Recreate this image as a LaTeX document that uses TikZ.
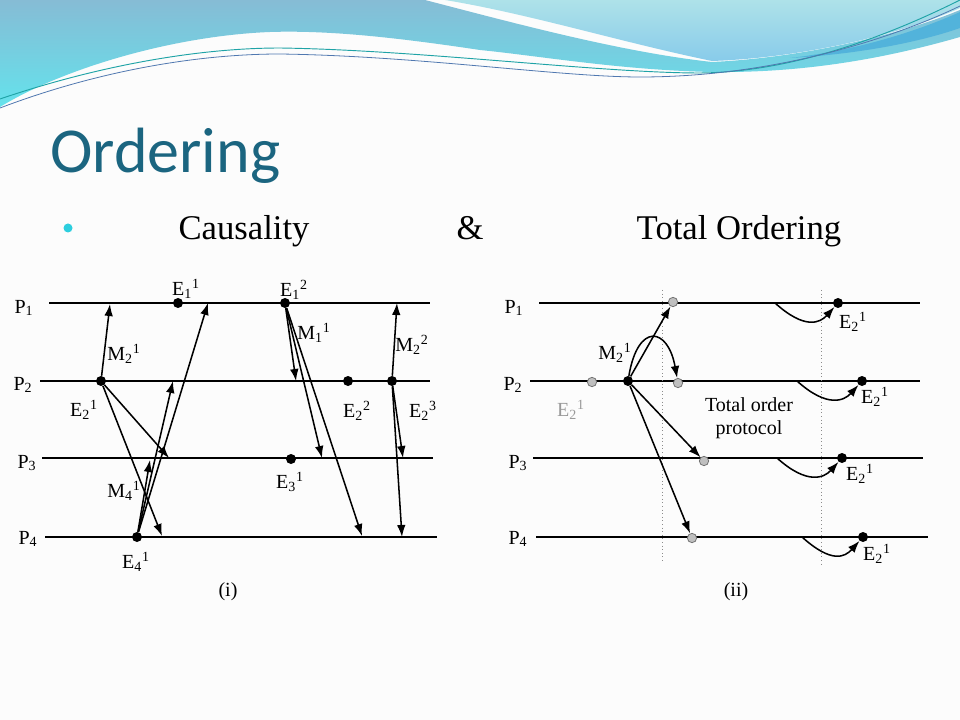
\documentclass[tikz,border=0pt]{standalone}
\usepackage{fontspec}
\setmainfont{Liberation Serif}
\newfontfamily\titlefont{Carlito}
\usetikzlibrary{arrows.meta}

\definecolor{titleblue}{HTML}{1B6580}
\definecolor{bullcyan}{HTML}{2CCEDE}
\definecolor{bandtop}{HTML}{86BCD5}
\definecolor{bandbot}{HTML}{64E2EC}
\definecolor{lighttop}{HTML}{AEE2E9}
\definecolor{lightbot}{HTML}{88CBEA}
\definecolor{stripe}{HTML}{52B3DB}
\definecolor{waveteal}{HTML}{1FA3A6}
\definecolor{waveblue}{HTML}{5078B0}

\tikzset{
  proc/.style={line width=0.8pt},
  msg/.style={line width=1.15pt,-{Latex[length=9pt,width=6.5pt]}},
  ev/.style={circle,fill=black,inner sep=0pt,minimum size=7.5pt},
  gev/.style={circle,fill=black!25,draw=black!55,line width=0.6pt,inner sep=0pt,minimum size=7pt},
  lbl/.style={font=\fontsize{15}{17}\selectfont,inner sep=0pt},
}
\newcommand{\evt}[3]{#1\textsubscript{#2}\textsuperscript{#3}}

\begin{document}
\begin{tikzpicture}[x=0.75pt,y=-0.75pt]
  \useasboundingbox (0,0) rectangle (960,720);
  \fill[black!1] (0,0) rectangle (960,720);

  % header waves
  \shade[top color=bandtop,bottom color=bandbot] (0,0) -- (425,0)
    .. controls (510,22) and (620,52) .. (712,62)
    .. controls (800,58) and (900,35) .. (960,10) -- (960,37)
    .. controls (880,60) and (800,73) .. (712,72)
    .. controls (620,70) and (540,56) .. (480,50)
    .. controls (400,38) and (330,30) .. (270,32)
    .. controls (170,36) and (60,70) .. (0,107) -- cycle;
  \shade[top color=lighttop,bottom color=lightbot] (445,0) -- (960,0) -- (960,8)
    .. controls (900,35) and (800,58) .. (712,61)
    .. controls (620,42) and (530,14) .. (445,0) -- cycle;
  \fill[stripe] (790,58) .. controls (860,50) and (920,30) .. (960,12) -- (960,28)
    .. controls (920,42) and (860,54) .. (790,58) -- cycle;
  \draw[waveteal,line width=0.7pt] (0,99) .. controls (100,65) and (200,48) .. (280,48)
    .. controls (420,50) and (600,73) .. (700,73) .. controls (800,72) and (900,30) .. (960,0);
  \draw[waveblue,line width=0.6pt] (0,108) .. controls (100,70) and (200,54) .. (280,54)
    .. controls (420,56) and (560,77) .. (640,77) .. controls (780,77) and (900,35) .. (960,6);

  % title and bullet
  \node[anchor=base west,inner sep=0pt,text=titleblue,font=\titlefont\fontsize{48}{50}\selectfont] (title) at (50,173) {Ordering};
  \fill[bullcyan] (68,228) circle (4.5);
  \node[anchor=base,inner sep=0pt,font=\fontsize{26}{28}\selectfont] (caus) at (244,240) {Causality};
  \node[anchor=base,inner sep=0pt,font=\fontsize{26}{28}\selectfont] (amp) at (470,240) {\&};
  \node[anchor=base,inner sep=0pt,font=\fontsize{26}{28}\selectfont] (tot) at (739,240) {Total Ordering};

  % (i) causality
  \foreach \i/\xs/\xe/\y in {1/49/430/303, 2/40/430/381, 3/42/433/458, 4/45/437/537} {
    \coordinate (a\i s) at (\xs,\y);
    \coordinate (a\i e) at (\xe,\y);
    \draw[proc] (a\i s) -- (a\i e);
  }
  \node[lbl] (pa1) at (24,308) {P\textsubscript{1}};
  \node[lbl] (pa2) at (23,385) {P\textsubscript{2}};
  \node[lbl] (pa3) at (27,463) {P\textsubscript{3}};
  \node[lbl] (pa4) at (28,539) {P\textsubscript{4}};

  \node[ev] (e11) at (178,303) {};
  \node[ev] (e21) at (101,381) {};
  \node[ev] (e41) at (137,537) {};
  \node[ev] (e12) at (285,303) {};
  \node[ev] (e22) at (348,381) {};
  \node[ev] (e31) at (291,459) {};
  \node[ev] (e23) at (392,381) {};

  \foreach \src/\x/\y [count=\k] in {e21/110/304, e21/169/458, e21/162/536,
      e41/208/303, e41/173/381, e41/150/460,
      e12/296/381, e12/322/458, e12/362/536,
      e23/397/303, e23/403/458, e23/402/537} {
    \coordinate (ta\k) at (\x,\y);
    \draw[msg] (\src) -- (ta\k);
  }

  \node[lbl] (le11) at (186,289) {\evt{E}{1}{1}};
  \node[lbl] (le21) at (84,410) {\evt{E}{2}{1}};
  \node[lbl] (le41) at (136,562) {\evt{E}{4}{1}};
  \node[lbl] (lm21) at (124,354) {\evt{M}{2}{1}};
  \node[lbl] (lm41) at (124,491) {\evt{M}{4}{1}};
  \node[lbl] (le12) at (294,290) {\evt{E}{1}{2}};
  \node[lbl] (lm11) at (314,333) {\evt{M}{1}{1}};
  \node[lbl] (le22) at (357,411) {\evt{E}{2}{2}};
  \node[lbl] (le31) at (290,482) {\evt{E}{3}{1}};
  \node[lbl] (le23) at (423,411) {\evt{E}{2}{3}};
  \node[lbl] (lm22) at (412,345) {\evt{M}{2}{2}};
  \node[lbl] (capi) at (228,592) {(i)};

  % (ii) total ordering
  \foreach \i/\xs/\xe/\y in {1/539/920/303, 2/530/920/381, 3/533/923/458, 4/536/928/537} {
    \coordinate (b\i s) at (\xs,\y);
    \coordinate (b\i e) at (\xe,\y);
    \draw[proc] (b\i s) -- (b\i e);
  }
  \node[lbl] (pb1) at (514,308) {P\textsubscript{1}};
  \node[lbl] (pb2) at (513,385) {P\textsubscript{2}};
  \node[lbl] (pb3) at (518,463) {P\textsubscript{3}};
  \node[lbl] (pb4) at (518,539) {P\textsubscript{4}};

  \coordinate (d1s) at (662,290);
  \coordinate (d1e) at (662,563);
  \coordinate (d2s) at (821,290);
  \coordinate (d2e) at (821,565);
  \draw[black!45,dotted,line width=0.7pt] (d1s) -- (d1e);
  \draw[black!45,dotted,line width=0.7pt] (d2s) -- (d2e);

  \node[gev] (g0) at (592,382) {};
  \node[gev] (g1) at (673,302) {};
  \node[gev] (g2) at (678,383) {};
  \node[gev] (g3) at (704,461) {};
  \node[gev] (g4) at (692,538) {};
  \node[ev] (m) at (628,381) {};

  \draw[msg] (m) -- (g1);
  \draw[msg] (m) .. controls (638,322) and (668,327) .. (g2);
  \draw[msg] (m) -- (g3);
  \draw[msg] (m) -- (g4);

  \node[lbl] (lm) at (615,353) {\evt{M}{2}{1}};
  \node[lbl,text=black!40] (lg0) at (571,410) {\evt{E}{2}{1}};
  \node[lbl,align=center] (proto) at (749,418) {Total order\\protocol};

  \foreach \i/\xs/\xd/\y/\lx/\ly in {1/775/838/303/853/322, 2/797/862/381/875/397,
      3/777/842/458/860/474, 4/802/863/537/877/554} {
    \coordinate (s\i) at (\xs,\y);
    \node[ev] (f\i) at (\xd,\y) {};
    \draw[msg] (s\i) .. controls +(30,27) and +(-18,20) .. (f\i);
    \node[lbl] (lf\i) at (\lx,\ly) {\evt{E}{2}{1}};
  }
  \node[lbl] (capii) at (736,592) {(ii)};
\end{tikzpicture}
\end{document}
